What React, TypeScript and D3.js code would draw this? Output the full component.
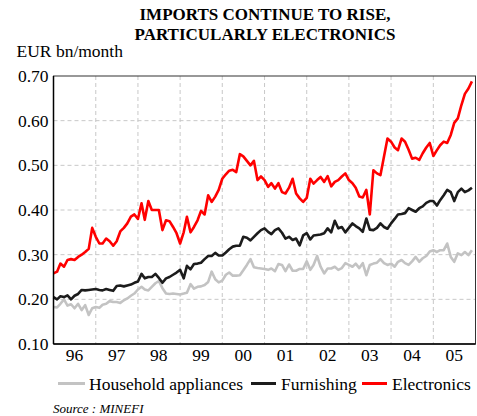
import React from "react";
import * as d3 from "d3";

// Monthly imports, EUR bn/month, Jan 1996 – Dec 2005 (one row per year)
const household: number[] = [
  0.183, 0.182, 0.19, 0.2, 0.186, 0.189, 0.18, 0.19, 0.176, 0.187, 0.165, 0.18,
  0.183, 0.181, 0.188, 0.19, 0.196, 0.194, 0.194, 0.192, 0.198, 0.202, 0.208, 0.213,
  0.222, 0.228, 0.222, 0.22, 0.228, 0.236, 0.241, 0.225, 0.213, 0.212, 0.213, 0.212,
  0.211, 0.213, 0.215, 0.234, 0.224, 0.228, 0.229, 0.232, 0.239, 0.262, 0.245, 0.238,
  0.242, 0.255, 0.26, 0.253, 0.253, 0.254, 0.265, 0.277, 0.29, 0.272, 0.27, 0.269,
  0.268, 0.266, 0.269, 0.263, 0.279, 0.277, 0.263, 0.278, 0.264, 0.264, 0.268, 0.268,
  0.285, 0.266, 0.277, 0.297, 0.273, 0.258, 0.269, 0.269, 0.273, 0.266, 0.27, 0.281,
  0.277, 0.273, 0.28, 0.27, 0.281, 0.254, 0.277, 0.28, 0.282, 0.29, 0.281, 0.277,
  0.28, 0.273, 0.284, 0.288, 0.281, 0.277, 0.285, 0.295, 0.284, 0.292, 0.297, 0.307,
  0.31, 0.306, 0.31, 0.31, 0.325, 0.295, 0.284, 0.303, 0.299, 0.306, 0.299, 0.31,
];

const furnishing: number[] = [
  0.205, 0.2, 0.207, 0.205, 0.209, 0.2, 0.208, 0.212, 0.221, 0.22, 0.221, 0.222,
  0.223, 0.221, 0.22, 0.223, 0.221, 0.219, 0.23, 0.231, 0.229, 0.231, 0.233, 0.237,
  0.24, 0.257, 0.247, 0.25, 0.25, 0.257, 0.248, 0.237, 0.247, 0.25, 0.255, 0.26,
  0.266, 0.247, 0.275, 0.267, 0.279, 0.28, 0.282, 0.29, 0.297, 0.297, 0.304, 0.298,
  0.298, 0.305, 0.312, 0.318, 0.32, 0.32, 0.34, 0.338, 0.332, 0.34, 0.348, 0.355,
  0.359, 0.351, 0.346, 0.355, 0.359, 0.349, 0.336, 0.34, 0.333, 0.336, 0.321, 0.343,
  0.348, 0.334, 0.343, 0.344, 0.345, 0.348, 0.359, 0.35, 0.376, 0.359, 0.362, 0.35,
  0.36, 0.37, 0.364, 0.359, 0.351, 0.381, 0.356, 0.355, 0.36, 0.37, 0.362, 0.358,
  0.37, 0.38, 0.39, 0.391, 0.393, 0.404, 0.4, 0.396, 0.404, 0.408, 0.416, 0.42,
  0.42, 0.41, 0.422, 0.433, 0.445, 0.44, 0.42, 0.44, 0.448, 0.44, 0.444, 0.45,
];

const electronics: number[] = [
  0.258, 0.262, 0.28, 0.273, 0.288, 0.29, 0.288, 0.295, 0.3, 0.306, 0.313, 0.36,
  0.34, 0.325, 0.325, 0.336, 0.33, 0.32, 0.33, 0.352, 0.36, 0.37, 0.385, 0.39,
  0.38, 0.415, 0.378, 0.42, 0.4, 0.4, 0.4, 0.355, 0.377, 0.375, 0.362, 0.348,
  0.325, 0.35, 0.385, 0.35, 0.362, 0.377, 0.398, 0.39, 0.433, 0.418, 0.43, 0.445,
  0.47, 0.48, 0.488, 0.49, 0.485, 0.525, 0.52, 0.51, 0.5, 0.51, 0.467, 0.475,
  0.467, 0.452, 0.46, 0.448, 0.46, 0.44, 0.437, 0.45, 0.47, 0.437, 0.426, 0.418,
  0.427, 0.47, 0.459, 0.467, 0.474, 0.463, 0.476, 0.453, 0.463, 0.467, 0.475, 0.482,
  0.467, 0.46, 0.45, 0.43, 0.428, 0.445, 0.39, 0.489, 0.482, 0.478, 0.52, 0.56,
  0.553, 0.54, 0.534, 0.56, 0.553, 0.535, 0.515, 0.517, 0.512, 0.527, 0.54, 0.55,
  0.521, 0.534, 0.545, 0.553, 0.55, 0.568, 0.595, 0.605, 0.635, 0.66, 0.672, 0.688,
];

const yearLabels: string[] = ["96", "97", "98", "99", "00", "01", "02", "03", "04", "05"];
const yTicks: number[] = [0.1, 0.2, 0.3, 0.4, 0.5, 0.6, 0.7];

const seriesNames: string[] = ["Household appliances", "Furnishing", "Electronics"];
const seriesColors: string[] = ["#c3c3c3", "#1c1c1c", "#ff0000"];

const W = 477;
const H = 416;
const plot = { left: 53.5, right: 475.5, top: 76, bottom: 344 };
const FONT = "'Liberation Serif', 'Times New Roman', serif";

export default function App() {
  const start = new Date(1996, 0, 1);
  const end = new Date(2006, 0, 1);
  const months = d3.timeMonth.range(start, end);
  const years = d3.timeYear.range(start, end);

  const x = d3.scaleTime().domain([start, end]).range([plot.left, plot.right]);
  const y = d3.scaleLinear().domain([0.1, 0.7]).range([plot.bottom, plot.top]);

  const line = d3
    .line<number>()
    .x((_, i) => x(months[i]))
    .y((v) => y(v));

  const series = [household, furnishing, electronics];

  // legend layout: [line start, line end, text start]
  const legendItems = [
    { x0: 58, x1: 85, tx: 89 },
    { x0: 251, x1: 276, tx: 281 },
    { x0: 362, x1: 387, tx: 392 },
  ];

  return (
    <svg
      width={W}
      height={H}
      viewBox={`0 0 ${W} ${H}`}
      style={{ position: "absolute", left: 0, top: 0, background: "#fff" }}
      fontFamily={FONT}
    >
      <rect x={0} y={0} width={W} height={H} fill="#fff" />

      {/* title */}
      <text x={265} y={19.5} textAnchor="middle" fontSize={17} fontWeight="bold" fill="#000">
        IMPORTS CONTINUE TO RISE,
      </text>
      <text x={265} y={39.5} textAnchor="middle" fontSize={17} fontWeight="bold" fill="#000">
        PARTICULARLY ELECTRONICS
      </text>
      <text x={16.5} y={56.5} fontSize={17.5} fill="#000">
        EUR bn/month
      </text>

      {/* grid */}
      <g stroke="#c8c8c8" strokeWidth={1} strokeDasharray="4,3">
        {yTicks.slice(1, -1).map((t) => (
          <line key={"h" + t} x1={plot.left} x2={plot.right} y1={y(t)} y2={y(t)} />
        ))}
        {years.slice(1).map((d) => (
          <line key={"v" + d.getFullYear()} x1={x(d)} x2={x(d)} y1={plot.top} y2={plot.bottom} />
        ))}
      </g>

      {/* series */}
      {series.map((s, i) => (
        <path
          key={seriesNames[i]}
          d={line(s) || ""}
          fill="none"
          stroke={seriesColors[i]}
          strokeWidth={2.6}
          strokeLinejoin="round"
        />
      ))}

      {/* frame */}
      <rect
        x={plot.left}
        y={plot.top}
        width={plot.right - plot.left}
        height={plot.bottom - plot.top}
        fill="none"
        stroke="#333"
        strokeWidth={1}
      />
      <line x1={plot.left} x2={plot.left} y1={plot.top} y2={plot.bottom} stroke="#000" strokeWidth={1.5} />
      <line x1={plot.left} x2={plot.right} y1={plot.bottom} y2={plot.bottom} stroke="#000" strokeWidth={1.5} />

      {/* y tick labels */}
      {yTicks.map((t) => (
        <text key={"yl" + t} x={48.5} y={y(t) + 6} textAnchor="end" fontSize={17.5} fill="#000">
          {d3.format(".2f")(t)}
        </text>
      ))}

      {/* x labels centred on each year */}
      {years.map((d, i) => {
        const mid = new Date(d.getFullYear(), 6, 1);
        return (
          <text key={"xl" + i} x={x(mid)} y={361} textAnchor="middle" fontSize={17.5} fill="#000">
            {yearLabels[i]}
          </text>
        );
      })}

      {/* legend */}
      {legendItems.map((it, i) => (
        <g key={"lg" + i}>
          <line x1={it.x0} x2={it.x1} y1={383.5} y2={383.5} stroke={seriesColors[i]} strokeWidth={3} />
          <text x={it.tx} y={389.5} fontSize={17.5} fill="#000">
            {seriesNames[i]}
          </text>
        </g>
      ))}

      <text x={53} y={412.5} fontSize={13} fontStyle="italic" fill="#000">
        Source : MINEFI
      </text>
    </svg>
  );
}
